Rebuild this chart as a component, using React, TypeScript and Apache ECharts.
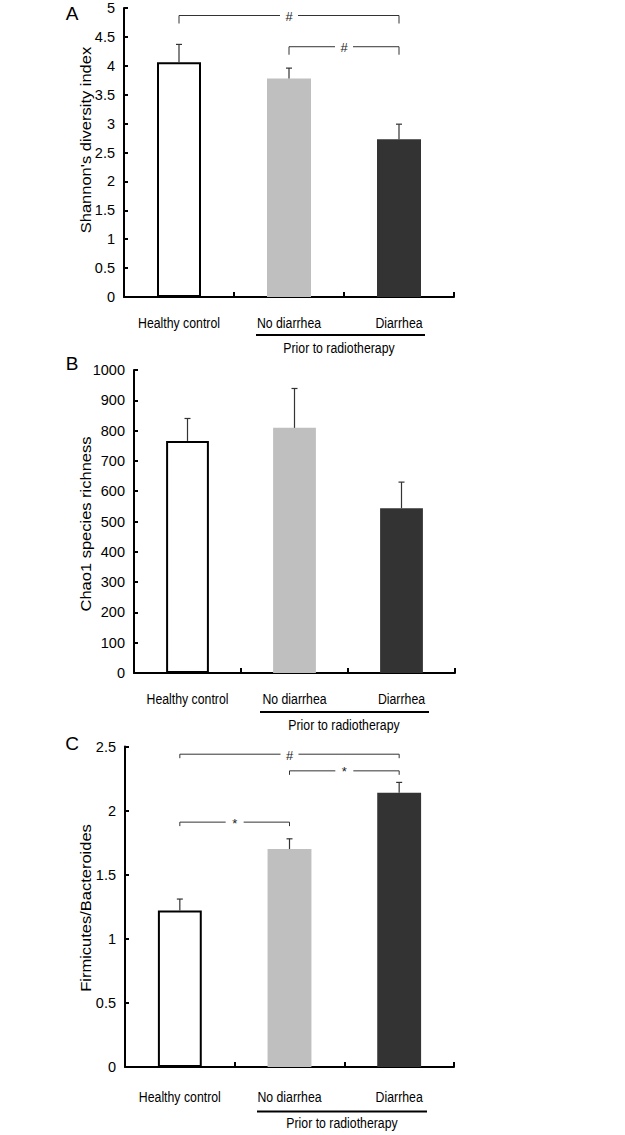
import React, { useEffect, useRef } from "react";
import * as echarts from "echarts";

const categories = ["Healthy control", "No diarrhea", "Diarrhea"];
const barColors = ["#ffffff", "#bfbfbf", "#333333"];

const shannonMean = [4.06, 3.78, 2.73];
const shannonErrTop = [4.37, 3.96, 2.99];
const chao1Mean = [766, 809, 544];
const chao1ErrTop = [840, 939, 630];
const fbMean = [1.22, 1.70, 2.14];
const fbErrTop = [1.31, 1.78, 2.22];

// brackets: [fromIndex, toIndex, yValue]
const shannonBrackets = [[0, 2, 4.87], [1, 2, 4.33]];
const shannonBracketLabels = ["#", "#"];
const fbBrackets = [[0, 2, 2.44], [1, 2, 2.31], [0, 1, 1.91]];
const fbBracketLabels = ["#", "*", "*"];

const panelLetters = ["A", "B", "C"];
const yTitles = ["Shannon's diversity index", "Chao1 species richness", "Firmicutes/Bacteroides"];
const groupLabel = "Prior to radiotherapy";

const SANS = "'Liberation Sans', Arial, sans-serif";

const grids = [
  { left: 124, top: 8, width: 330, height: 289, labelOffset: 26.5, yMax: 5, yInt: 0.5, titleX: 86, titleY: 140, letterY: 13, under: [256, 425, 335], groupY: 348, groupX: 339 },
  { left: 134, top: 370, width: 321, height: 303, labelOffset: 26, yMax: 1000, yInt: 100, titleX: 86, titleY: 524, letterY: 363, under: [260, 429, 712], groupY: 725, groupX: 344 },
  { left: 125, top: 746.5, width: 329, height: 320.5, labelOffset: 30.5, yMax: 2.5, yInt: 0.5, titleX: 86, titleY: 908, letterY: 743, under: [257, 427, 1111.5], groupY: 1123, groupX: 342 },
];

const means = [shannonMean, chao1Mean, fbMean];
const tops = [shannonErrTop, chao1ErrTop, fbErrTop];
const brackets = [shannonBrackets, null, fbBrackets];
const bracketLabels = [shannonBracketLabels, null, fbBracketLabels];
const bracketDrop = [8, 0, 4];

export default function App() {
  const ref = useRef<HTMLDivElement>(null);
  useEffect(() => {
    document.body.style.margin = "0";
    if (!ref.current) return;
    const chart = echarts.init(ref.current, null, { renderer: "svg" });

    const series: any[] = [];
    const xAxis: any[] = [];
    const yAxis: any[] = [];
    const graphic: any[] = [];

    grids.forEach((g, i) => {
      xAxis.push({
        type: "category",
        gridIndex: i,
        data: categories,
        boundaryGap: true,
        axisLine: { lineStyle: { color: "#000", width: 2 } },
        axisTick: { show: true, inside: true, length: 5, interval: 0, lineStyle: { color: "#000", width: 2 } },
        axisLabel: { show: false },
        splitLine: { show: false },
      });
      yAxis.push({
        type: "value",
        gridIndex: i,
        min: 0,
        max: g.yMax,
        interval: g.yInt,
        axisLine: { show: true, lineStyle: { color: "#000", width: 2 } },
        axisTick: { show: true, inside: true, length: 4, lineStyle: { color: "#000", width: 2 } },
        axisLabel: { color: "#000", fontSize: 14.5, fontFamily: SANS, margin: 9, formatter: (v: number) => String(v) },
        splitLine: { show: false },
      });
      series.push({
        type: "bar",
        xAxisIndex: i,
        yAxisIndex: i,
        barWidth: "40%",
        data: means[i].map((v, k) => ({
          value: v,
          itemStyle: {
            color: barColors[k],
            borderColor: k === 0 ? "#000" : barColors[k],
            borderWidth: k === 0 ? 2 : 0,
          },
        })),
        z: 2,
      });
      // category labels (drawn through the category scale, horizontally condensed like the source)
      const off = g.labelOffset;
      series.push({
        type: "custom",
        xAxisIndex: i,
        yAxisIndex: i,
        data: categories.map((c, k) => [k, 0]),
        encode: { x: 0, y: 1 },
        clip: false,
        z: 5,
        renderItem: (params: any, api: any) => {
          const p = api.coord([api.value(0), 0]);
          return {
            type: "text",
            x: p[0],
            y: p[1] + off,
            scaleX: 0.82,
            style: { text: categories[params.dataIndex], fontSize: 15, fontFamily: SANS, fill: "#000", align: "center", verticalAlign: "middle" },
          };
        },
      });
      series.push({
        type: "custom",
        xAxisIndex: i,
        yAxisIndex: i,
        data: means[i].map((v, k) => [k, v, tops[i][k]]),
        encode: { x: 0, y: [1, 2] },
        z: 3,
        renderItem: (params: any, api: any) => {
          const p0 = api.coord([api.value(0), api.value(1)]);
          const p1 = api.coord([api.value(0), api.value(2)]);
          return {
            type: "group",
            children: [
              { type: "line", shape: { x1: p0[0], y1: p0[1], x2: p1[0], y2: p1[1] }, style: { stroke: "#333", lineWidth: 1.2 } },
              { type: "line", shape: { x1: p1[0] - 3, y1: p1[1], x2: p1[0] + 3, y2: p1[1] }, style: { stroke: "#333", lineWidth: 1.2 } },
            ],
          };
        },
      });
      const br = brackets[i];
      if (br) {
        const labels = bracketLabels[i] as string[];
        const drop = bracketDrop[i];
        series.push({
          type: "custom",
          xAxisIndex: i,
          yAxisIndex: i,
          data: br,
          encode: { x: [0, 1], y: 2 },
          z: 4,
          clip: false,
          renderItem: (params: any, api: any) => {
            const a = api.coord([api.value(0), api.value(2)]);
            const b = api.coord([api.value(1), api.value(2)]);
            const mid = (a[0] + b[0]) / 2;
            const gap = 9;
            return {
              type: "group",
              children: [
                { type: "polyline", shape: { points: [[a[0], a[1] + drop], [a[0], a[1]], [mid - gap, a[1]]] }, style: { stroke: "#333", lineWidth: 1, fill: "none" } },
                { type: "polyline", shape: { points: [[mid + gap, b[1]], [b[0], b[1]], [b[0], b[1] + drop]] }, style: { stroke: "#333", lineWidth: 1, fill: "none" } },
                { type: "text", x: mid, y: a[1] + 1, style: { text: labels[params.dataIndex], fontSize: 13, fontFamily: SANS, fill: "#222", align: "center", verticalAlign: "middle" } },
              ],
            };
          },
        });
      }
      graphic.push({
        type: "text",
        x: 72,
        y: g.letterY,
        style: { text: panelLetters[i], fontSize: 19, fontFamily: SANS, fill: "#000", align: "center", verticalAlign: "middle" },
      });
      graphic.push({
        type: "text",
        x: g.titleX,
        y: g.titleY,
        rotation: Math.PI / 2,
        scaleY: 0.85,
        style: { text: yTitles[i], fontSize: 16.5, fontFamily: SANS, fill: "#000", align: "center", verticalAlign: "middle" },
      });
      graphic.push({
        type: "line",
        shape: { x1: g.under[0], y1: g.under[2], x2: g.under[1], y2: g.under[2] },
        style: { stroke: "#000", lineWidth: 2 },
      });
      graphic.push({
        type: "text",
        x: g.groupX,
        y: g.groupY,
        scaleX: 0.82,
        style: { text: groupLabel, fontSize: 15, fontFamily: SANS, fill: "#000", align: "center", verticalAlign: "middle" },
      });
    });

    chart.setOption({
      animation: false,
      backgroundColor: "#fff",
      grid: grids.map((g) => ({ left: g.left, top: g.top, width: g.width, height: g.height, containLabel: false })),
      xAxis,
      yAxis,
      series,
      graphic,
    });
    return () => chart.dispose();
  }, []);
  return <div ref={ref} style={{ width: 625, height: 1135 }} />;
}
